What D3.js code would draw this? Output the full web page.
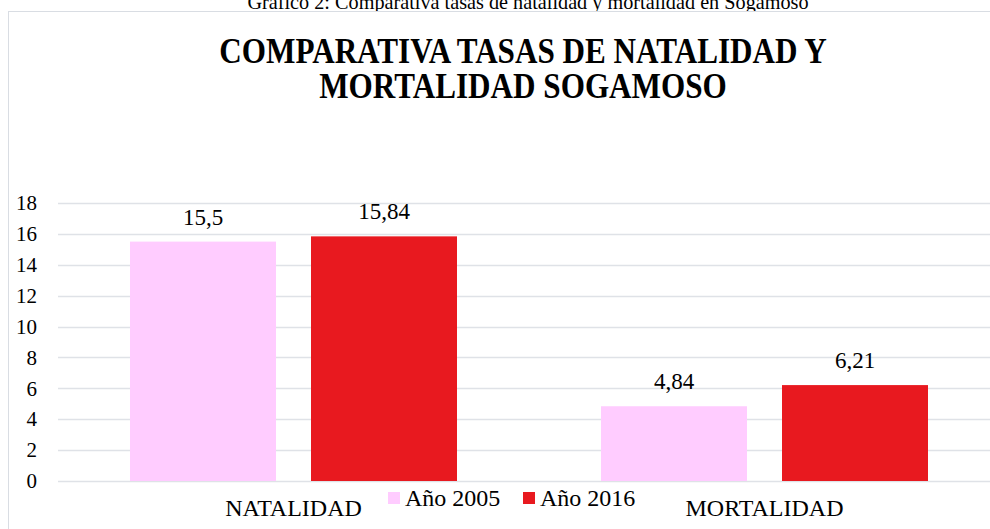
<!DOCTYPE html>
<html>
<head>
<meta charset="utf-8">
<script src="https://cdn.jsdelivr.net/npm/d3@7"></script>
<style>
  body { margin: 0; background: #fff; overflow: hidden; }
  text { font-family: "Liberation Serif", "Times New Roman", serif; fill: #000; }
</style>
</head>
<body>
<div id="chart"></div>
<script>
// ====================== data ===============
const categories = ['NATALIDAD', 'MORTALIDAD'];
const seriesNames = ['Año 2005', 'Año 2016'];
const values2005 = [15.5, 4.84];
const values2016 = [15.84, 6.21];
const valueLabels2005 = ['15,5', '4,84'];
const valueLabels2016 = ['15,84', '6,21'];
const yTicks = [0, 2, 4, 6, 8, 10, 12, 14, 16, 18];
const colors = ['#ffccff', '#e8191f'];

const drawChart = () => {
    const svg = d3.select('#chart')
        .append('svg')
        .attr('width', 990)
        .attr('height', 529);

    // caption above the chart box (cut at the top, as in the source)
    svg.append('text')
        .attr('transform', 'translate(528,9) scale(0.92,1)')
        .attr('text-anchor', 'middle')
        .attr('font-size', '22px')
        .text('Gráfico 2: Comparativa tasas de natalidad y mortalidad en Sogamoso');

    // chart box
    svg.append('rect')
        .attr('x', 8.5)
        .attr('y', 11.5)
        .attr('width', 1000)
        .attr('height', 530)
        .attr('fill', '#fff')
        .attr('stroke', '#d9dde3')
        .attr('stroke-width', 1);

    // title
    const title = svg.append('text')
        .attr('transform', 'translate(523,0) scale(0.89,1)')
        .attr('text-anchor', 'middle')
        .attr('font-size', '35px')
        .attr('font-weight', 'bold');
    title.append('tspan').attr('x', 0).attr('y', 63).text('COMPARATIVA TASAS DE NATALIDAD Y');
    title.append('tspan').attr('x', 0).attr('y', 98).text('MORTALIDAD SOGAMOSO');

    const plot = { left: 58, right: 1000, top: 203, bottom: 481 };

    const y = d3.scaleLinear()
        .domain([0, 18])
        .range([plot.bottom, plot.top]);

    const x0 = d3.scaleBand()
        .domain(categories)
        .range([plot.left, plot.right])
        .paddingInner(0)
        .paddingOuter(0);

    const x1 = d3.scaleBand()
        .domain(seriesNames)
        .range([72, x0.bandwidth() - 72])
        .paddingInner(35 / 327 * 2 / (1 + 35 / 327));

    // gridlines
    svg.append('g')
        .selectAll('line')
        .data(yTicks)
        .enter()
        .append('line')
        .attr('x1', plot.left)
        .attr('x2', plot.right)
        .attr('y1', d => Math.round(y(d)) + 0.5)
        .attr('y2', d => Math.round(y(d)) + 0.5)
        .style('stroke', '#dfe2e7')
        .style('stroke-width', 1.5);

    // y axis labels
    const yAxis = d3.axisLeft(y)
        .tickValues(yTicks)
        .tickSize(0)
        .tickPadding(0);
    const yG = svg.append('g')
        .attr('transform', `translate(37,0)`)
        .call(yAxis);
    yG.select('.domain').remove();
    yG.selectAll('text')
        .attr('font-size', '21px')
        .attr('font-family', '"Liberation Serif", serif')
        .attr('fill', '#000')
        .attr('dy', '0.32em');

    const seriesData = [
        { name: seriesNames[0], values: values2005, labels: valueLabels2005, color: colors[0] },
        { name: seriesNames[1], values: values2016, labels: valueLabels2016, color: colors[1] }
    ];

    seriesData.forEach(s => {
        const g = svg.append('g');
        g.selectAll('rect')
            .data(categories)
            .enter()
            .append('rect')
            .attr('x', (c) => x0(c) + x1(s.name))
            .attr('width', x1.bandwidth())
            .attr('y', (c, i) => y(s.values[i]))
            .attr('height', (c, i) => plot.bottom - y(s.values[i]))
            .attr('fill', s.color);

        g.selectAll('text')
            .data(categories)
            .enter()
            .append('text')
            .attr('x', (c) => x0(c) + x1(s.name) + x1.bandwidth() / 2)
            .attr('y', (c, i) => y(s.values[i]) - 17)
            .attr('text-anchor', 'middle')
            .attr('font-size', '23px')
            .text((c, i) => s.labels[i]);
    });

    // category labels
    svg.append('g')
        .selectAll('text')
        .data(categories)
        .enter()
        .append('text')
        .attr('x', c => x0(c) + x0.bandwidth() / 2)
        .attr('y', 516)
        .attr('text-anchor', 'middle')
        .attr('font-size', '24px')
        .text(c => c);

    // legend
    const legendX = [388, 523];
    const legend = svg.append('g');
    seriesData.forEach((s, i) => {
        legend.append('rect')
            .attr('x', legendX[i])
            .attr('y', 492)
            .attr('width', 12)
            .attr('height', 12)
            .attr('fill', s.color);
        legend.append('text')
            .attr('x', legendX[i] + 17)
            .attr('y', 506)
            .attr('font-size', '24px')
            .text(s.name);
    });
};

drawChart();
</script>
</body>
</html>
